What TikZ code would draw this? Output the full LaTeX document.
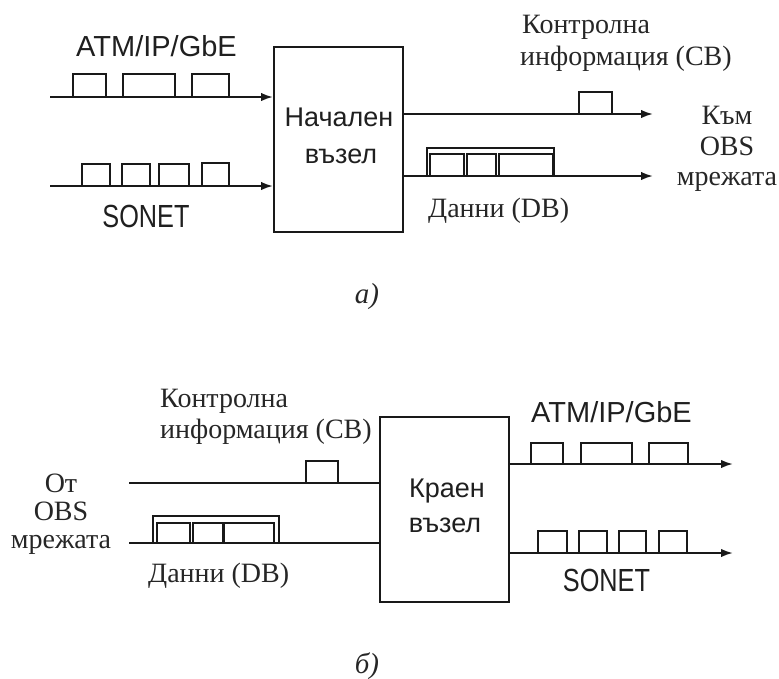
\documentclass[tikz,border=0pt]{standalone}
\usepackage{fontspec}
\setmainfont{Liberation Serif}
\setsansfont{Liberation Sans}
\newfontfamily\lblfont{Liberation Serif}
\newfontfamily\capfont{Liberation Serif Italic}
\usetikzlibrary{arrows.meta}

\begin{document}
\begin{tikzpicture}[x=1pt,y=-1pt,
  wire/.style={line width=2pt, draw=black!90},
  flow/.style={wire, -{Latex[length=12pt,width=8.5pt]}},
  nodebox/.style={draw=black!90, line width=2pt, minimum width=129pt, minimum height=185pt, inner sep=0pt},
  pkt/.style={draw=black!90, line width=2pt},
  burstframe/.style={draw=black!90, line width=1.2pt},
  boxtext/.style={font=\sffamily\fontsize{27}{32}\selectfont, inner sep=0pt, anchor=base, text=black!88},
  proto/.style={font=\sffamily\fontsize{29}{34}\selectfont, inner sep=0pt, text=black!88},
  sonet/.style={font=\sffamily\fontsize{32}{36}\selectfont, inner sep=0pt, anchor=base, text=black!88},
  note/.style={font=\lblfont\fontsize{28}{32}\selectfont, inner sep=0pt, text=black!85},
  caption/.style={font=\capfont\fontsize{29}{34}\selectfont, inner sep=0pt, anchor=base, text=black!85}]

\useasboundingbox (0,0) rectangle (779,678);

% ---------- (a) ingress node ----------
\node[nodebox] (nA) at (338.5,139.5) {};
\node[boxtext] (nAt1) at (339,126) {Начален};
\node[boxtext] (nAt2) at (341,163) {възел};

\coordinate (a1) at (50,97);
\coordinate (a2) at (50,186);
\draw[flow] (a1) -- (a1 -| nA.west);
\draw[flow] (a2) -- (a2 -| nA.west);

\node[proto, anchor=base west] (atmA) at (76,56) {ATM/IP/GbE};
\node[sonet] (sonA) at (146,227) {\scalebox{0.79}[1]{SONET}};

% incoming packets
\draw[pkt] (73,97) rectangle (106,74);
\draw[pkt] (123,97) rectangle (175,74);
\draw[pkt] (192,97) rectangle (229,74);
\draw[pkt] (82,186) rectangle (110,164);
\draw[pkt] (122,186) rectangle (150,164);
\draw[pkt] (159,186) rectangle (189,164);
\draw[pkt] (202,186) rectangle (229,163);

% outgoing control and data bursts
\coordinate (o1) at (653,114);
\coordinate (o2) at (653,176);
\draw[flow] (nA.east |- o1) -- (o1);
\draw[flow] (nA.east |- o2) -- (o2);
\draw[pkt] (579,114) rectangle (612,92);
\draw[burstframe] (427,176) -- (427,148) -- (554,148) -- (554,176);
\draw[pkt] (430,176) rectangle (464,154);
\draw[pkt] (467,176) rectangle (496,154);
\draw[pkt] (499,176) rectangle (553,154);

\node[note, anchor=base west] (cbA1) at (522,33) {Контролна};
\node[note, anchor=base west] (cbA2) at (520,65) {информация (CB)};
\node[note, anchor=base west] (dbA) at (428,217) {Данни (DB)};
\node[note, anchor=base] (toA1) at (727,124) {Към};
\node[note, anchor=base] (toA2) at (727,155) {OBS};
\node[note, anchor=base] (toA3) at (727,185) {мрежата};

\node[caption] (capA) at (367,303) {а)};

% ---------- (b) egress node ----------
\node[nodebox] (nB) at (444.5,509.5) {};
\node[boxtext] (nBt1) at (447,497) {Краен};
\node[boxtext] (nBt2) at (445,532) {възел};

\coordinate (i1) at (129,483);
\coordinate (i2) at (129,543);
\draw[wire] (i1) -- (i1 -| nB.west);
\draw[wire] (i2) -- (i2 -| nB.west);
\draw[pkt] (306,483) rectangle (338,461);
\draw[burstframe] (153,543) -- (153,516) -- (279,516) -- (279,543);
\draw[pkt] (157,543) rectangle (190,523);
\draw[pkt] (193,543) rectangle (223,523);
\draw[pkt] (224,543) rectangle (274,523);

\node[note, anchor=base west] (cbB1) at (160,407) {Контролна};
\node[note, anchor=base west] (cbB2) at (160,438) {информация (CB)};
\node[note, anchor=base west] (dbB) at (148,582) {Данни (DB)};
\node[note, anchor=base] (frB1) at (61,492) {От};
\node[note, anchor=base] (frB2) at (61,520) {OBS};
\node[note, anchor=base] (frB3) at (61,548) {мрежата};

\coordinate (e1) at (733,464);
\coordinate (e2) at (733,553);
\draw[flow] (nB.east |- e1) -- (e1);
\draw[flow] (nB.east |- e2) -- (e2);
\draw[pkt] (531,464) rectangle (563,443);
\draw[pkt] (581,464) rectangle (632,443);
\draw[pkt] (649,464) rectangle (688,443);
\draw[pkt] (538,553) rectangle (567,531);
\draw[pkt] (579,553) rectangle (607,531);
\draw[pkt] (619,553) rectangle (646,531);
\draw[pkt] (659,553) rectangle (687,531);

\node[proto, anchor=base west] (atmB) at (531,422) {ATM/IP/GbE};
\node[sonet] (sonB) at (606.5,591) {\scalebox{0.79}[1]{SONET}};

\node[caption] (capB) at (367,673) {б)};
\end{tikzpicture}
\end{document}
